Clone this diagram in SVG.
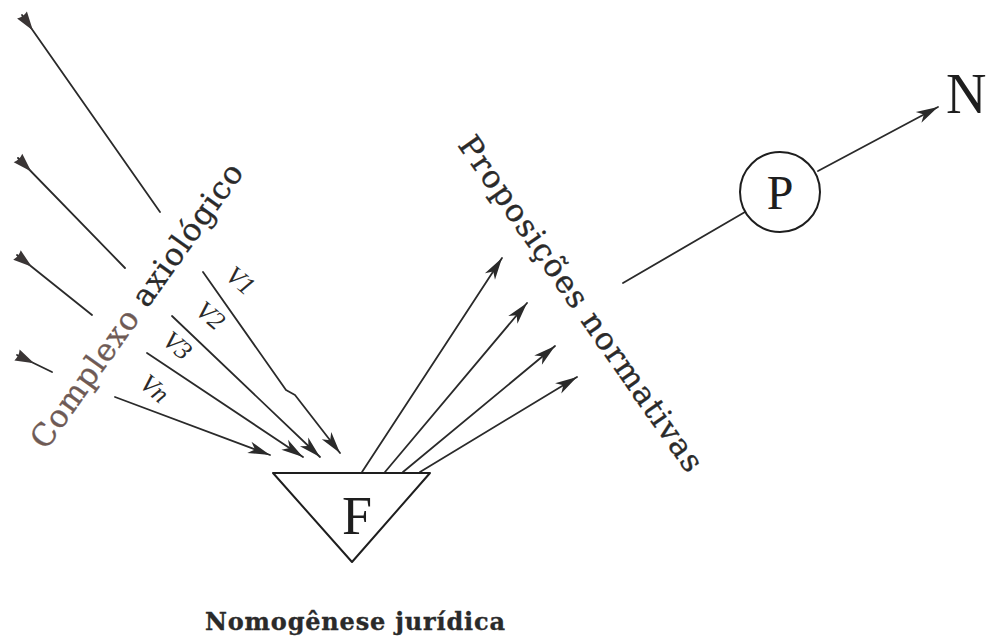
<svg xmlns="http://www.w3.org/2000/svg" width="992" height="642" viewBox="0 0 992 642">
<style>
.ln{fill:none;stroke:#2a2a2a;stroke-width:1.8;stroke-linecap:round;stroke-linejoin:round}
.lbl{font-family:"DejaVu Serif","Liberation Serif",serif;fill:#2a2a2a;stroke:#2a2a2a;stroke-width:0.35}
.big{font-family:"Liberation Serif","Times New Roman",serif;fill:#1e1e1e}
.v{font-family:"Liberation Serif","Times New Roman",serif;font-style:italic;font-size:26px;fill:#2a2a2a;text-anchor:middle}
</style>
<defs>
<marker id="tail" markerUnits="userSpaceOnUse" markerWidth="22" markerHeight="14" refX="0" refY="6" orient="auto" overflow="visible">
<path d="M0,0 L19,6 L0,12 Q2.5,6 0,0 z" fill="#3a3535"/>
</marker>
<marker id="head" markerUnits="userSpaceOnUse" markerWidth="24" markerHeight="14" refX="22" refY="6" orient="auto" overflow="visible">
<path d="M0,0 L22,6 L0,12 L6,6 z" fill="#2a2a2a"/>
</marker>
</defs>
<rect width="992" height="642" fill="#ffffff"/>

<g id="connectors">
<line class="ln" x1="22" y1="15" x2="160" y2="212" marker-start="url(#tail)"/>
<line class="ln" x1="18" y1="158" x2="125" y2="268" marker-start="url(#tail)"/>
<line class="ln" x1="17" y1="255" x2="92" y2="315" marker-start="url(#tail)"/>
<line class="ln" x1="17" y1="355" x2="52" y2="372" marker-start="url(#tail)"/>

<path class="ln" d="M203,272 L286,390 L295,395 L340,453" marker-end="url(#head)"/>
<line class="ln" x1="172" y1="316" x2="320" y2="457" marker-end="url(#head)"/>
<line class="ln" x1="147" y1="353" x2="303" y2="457" marker-end="url(#head)"/>
<line class="ln" x1="115" y1="397" x2="270" y2="455" marker-end="url(#head)"/>

<line class="ln" x1="362" y1="472" x2="502" y2="258" marker-end="url(#head)"/>
<line class="ln" x1="385" y1="472" x2="527" y2="303" marker-end="url(#head)"/>
<line class="ln" x1="403" y1="472" x2="555" y2="346" marker-end="url(#head)"/>
<line class="ln" x1="420" y1="472" x2="577" y2="377" marker-end="url(#head)"/>

<line class="ln" x1="623" y1="283" x2="745" y2="212"/>
<line class="ln" x1="818" y1="171" x2="938" y2="107" marker-end="url(#head)"/>
</g>

<g id="complexo-axiologico">
<text class="lbl" font-size="31" transform="translate(46,451) rotate(-54.5)" textLength="342" lengthAdjust="spacing"><tspan fill="#6e5a55" stroke="#6e5a55">Complexo</tspan> axiológico</text>
</g>

<g id="valores">
<text class="v" transform="translate(235,287) rotate(40)">V1</text>
<text class="v" transform="translate(205,322) rotate(40)">V2</text>
<text class="v" transform="translate(172,352) rotate(40)">V3</text>
<text class="v" transform="translate(149,395) rotate(40)">Vn</text>
</g>

<g id="F">
<path d="M273,473 L430,473 L352,562 Z" fill="#ffffff" stroke="#1e1e1e" stroke-width="2" stroke-linejoin="round"/>
<text class="big" x="357" y="534" font-size="54" text-anchor="middle">F</text>
</g>

<g id="proposicoes-normativas">
<text class="lbl" font-size="31" transform="translate(457,145) rotate(55)" textLength="402" lengthAdjust="spacing">Proposições  normativas</text>
</g>

<g id="P">
<circle cx="780" cy="192" r="40" fill="#ffffff" stroke="#1e1e1e" stroke-width="2"/>
<text class="big" x="780" y="209" font-size="48" text-anchor="middle">P</text>
</g>

<g id="N">
<text class="big" x="946" y="113" font-size="56">N</text>
</g>

<g id="nomogenese">
<text class="lbl" x="205" y="630" font-size="24" font-weight="bold" textLength="300" lengthAdjust="spacing">Nomogênese jurídica</text>
</g>
</svg>
